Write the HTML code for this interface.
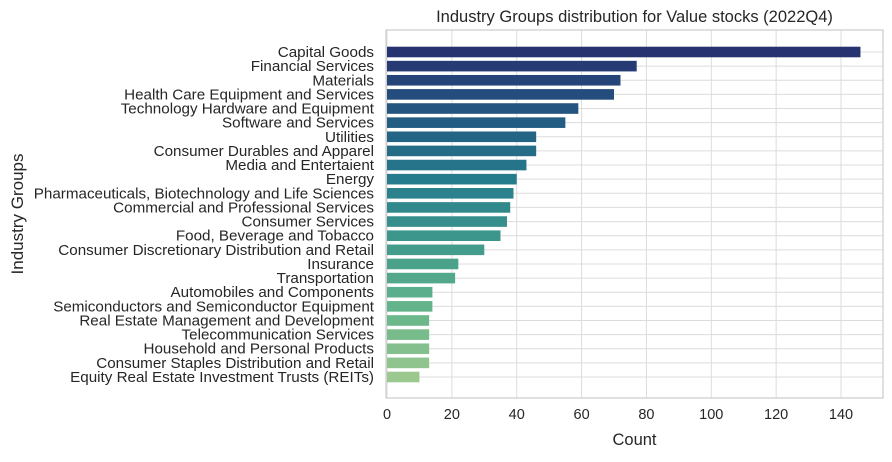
<!DOCTYPE html>
<html><head><meta charset="utf-8">
<style>
body{margin:0;background:#fff;}
svg text{font-family:"Liberation Sans",sans-serif;fill:#262626;}
</style></head>
<body>
<svg id="chart" width="892" height="457" xmlns="http://www.w3.org/2000/svg"></svg>
<script>
const categories=["Capital Goods","Financial Services","Materials","Health Care Equipment and Services","Technology Hardware and Equipment","Software and Services","Utilities","Consumer Durables and Apparel","Media and Entertaient","Energy","Pharmaceuticals, Biotechnology and Life Sciences","Commercial and Professional Services","Consumer Services","Food, Beverage and Tobacco","Consumer Discretionary Distribution and Retail","Insurance","Transportation","Automobiles and Components","Semiconductors and Semiconductor Equipment","Real Estate Management and Development","Telecommunication Services","Household and Personal Products","Consumer Staples Distribution and Retail","Equity Real Estate Investment Trusts (REITs)"];
const counts=[146,77,72,70,59,55,46,46,43,40,39,38,37,35,30,22,21,14,14,13,13,13,13,10];
const xTicks=[0,20,40,60,80,100,120,140];
const NS="http://www.w3.org/2000/svg";
const svg=document.getElementById('chart');
const L=386,R=883,T=30,B=398;
const x0=387,pxPer=(841-387)/140;
const xs=v=>x0+v*pxPer;
const y0=52,step=(377-52)/(categories.length-1);
const ys=i=>y0+step*i;
function mk(tag,attrs,txt){const e=document.createElementNS(NS,tag);for(const k in attrs)e.setAttribute(k,attrs[k]);if(txt!==undefined)e.textContent=txt;svg.appendChild(e);return e;}
const stops=[[39,51,112],[35,90,130],[38,125,140],[65,155,140],[102,182,138],[154,200,143]];
function col(t){const p=t*(stops.length-1);const i=Math.min(Math.floor(p),stops.length-2);const f=p-i;const a=stops[i],b=stops[i+1];return `rgb(${a.map((v,k)=>Math.round(v+(b[k]-v)*f)).join(',')})`;}
xTicks.forEach(v=>{const g=mk('line',{x1:xs(v),x2:xs(v),y1:T,y2:B,stroke:'#dcdcdc','stroke-width':1});


const t=mk('text',{x:xs(v),y:B+21,'text-anchor':'middle','font-size':14.5},v);

});
categories.forEach((c,i)=>{const g=mk('line',{x1:L,x2:R,y1:ys(i),y2:ys(i),stroke:'#dcdcdc','stroke-width':1});

});
categories.forEach((c,i)=>{const bh=step*0.75;
const r=mk('rect',{x:xs(0),y:ys(i)-bh/2,width:xs(counts[i])-xs(0),height:bh,fill:col(i/(categories.length-1))});


const t=mk('text',{x:L-12,y:ys(i)+5,'text-anchor':'end','font-size':15.2},c);

});
const fr=mk('rect',{x:L,y:T,width:R-L,height:B-T,fill:'none',stroke:'#cccccc','stroke-width':1.2});


const ti=mk('text',{x:(L+R)/2,y:22,'text-anchor':'middle','font-size':16.5},'Industry Groups distribution for Value stocks (2022Q4)');


const xl=mk('text',{x:(L+R)/2,y:445,'text-anchor':'middle','font-size':16.5},'Count');


const yl=mk('text',{x:23,y:(T+B)/2,'text-anchor':'middle','font-size':17,transform:`rotate(-90 23 ${(T+B)/2})`},'Industry Groups');


</script>
</body></html>
